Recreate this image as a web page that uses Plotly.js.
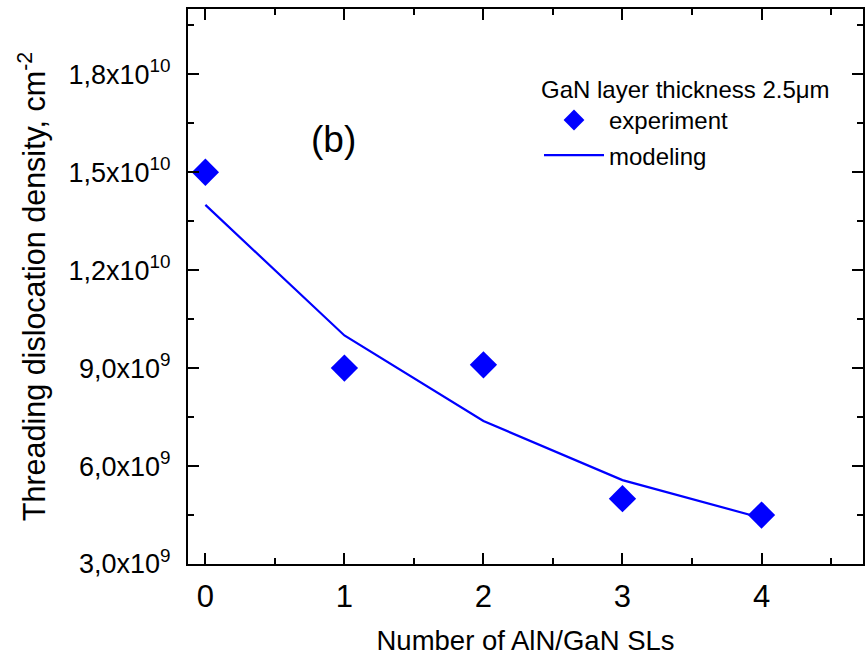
<!DOCTYPE html>
<html>
<head>
<meta charset="utf-8">
<script src="https://cdn.plot.ly/plotly-3.0.1.min.js"></script>
<style>html,body{margin:0;padding:0;background:#fff;}#chart{width:865px;height:657px;}</style>
</head>
<body>
<div id="chart"></div>
<script>
// Data
const layersExp = [0, 1, 2, 3, 4];
const densityExp = [1.5e10, 9.0e9, 9.1e9, 5.0e9, 4.5e9];
const layersModel = [0, 1, 2, 3, 4];
const densityModel = [1.40e10, 1.0e10, 7.38e9, 5.57e9, 4.41e9];
const yTickVals = [3e9, 6e9, 9e9, 1.2e10, 1.5e10, 1.8e10];
const yTickText = ['3,0x10<sup>9</sup>', '6,0x10<sup>9</sup>', '9,0x10<sup>9</sup>',
                   '1,2x10<sup>10</sup>', '1,5x10<sup>10</sup>', '1,8x10<sup>10</sup>'];
const xTickVals = [0, 1, 2, 3, 4];
const xTickText = ['0', '1', '2', '3', '4'];

const FONT = 'Liberation Sans, Arial, sans-serif';
const BLUE = '#0000ff';

const traces = [
  {
    x: layersExp, y: densityExp, name: 'experiment', type: 'scatter', mode: 'markers',
    legendgroup: 'a',
    marker: {symbol: 'diamond', size: 21, color: BLUE}
  },
  {
    x: layersModel, y: densityModel, name: 'modeling', type: 'scatter', mode: 'lines',
    legendgroup: 'b',
    line: {color: BLUE, width: 2.2}
  }
];

const axisCommon = {
  showline: true, linecolor: '#000', linewidth: 2, mirror: 'ticks',
  ticks: 'inside', ticklen: 11, tickwidth: 2, tickcolor: '#000',
  showgrid: false, zeroline: false
};

const layout = {
  width: 865, height: 657,
  margin: {l: 188, r: 2, t: 9, b: 93},
  paper_bgcolor: '#fff', plot_bgcolor: '#fff',
  font: {family: FONT, color: '#000'},
  showlegend: true,
  legend: {
    x: 0.52, y: 0.896, xanchor: 'left', yanchor: 'top',
    bgcolor: 'rgba(0,0,0,0)', borderwidth: 0,
    font: {family: FONT, size: 24, color: '#000'},
    title: {text: 'GaN layer thickness 2.5μm', font: {family: FONT, size: 24, color: '#000'}},
    itemwidth: 60, tracegroupgap: 1
  },
  xaxis: Object.assign({}, axisCommon, {
    range: [-0.125, 4.73],
    tickvals: xTickVals, ticktext: xTickText,
    tickfont: {family: FONT, size: 31, color: '#000'},
    ticklabelstandoff: 4,
    minor: {ticks: 'inside', ticklen: 6, tickwidth: 2, tickcolor: '#000', dtick: 0.5, tick0: 0},
    title: {text: 'Number of AlN/GaN SLs', font: {family: FONT, size: 27.5, color: '#000'}, standoff: 18}
  }),
  yaxis: Object.assign({}, axisCommon, {
    range: [3e9, 2.0e10],
    tickvals: yTickVals, ticktext: yTickText,
    tickfont: {family: FONT, size: 27, color: '#000'},
    ticklabelstandoff: 10,
    minor: {ticks: 'inside', ticklen: 6, tickwidth: 2, tickcolor: '#000', dtick: 1.5e9, tick0: 3e9},
    title: {text: 'Threading dislocation density, cm<sup>-2</sup>', font: {family: FONT, size: 30.5, color: '#000'}, standoff: 14}
  }),
  annotations: [
    {text: '(b)', xref: 'paper', yref: 'paper', x: 0.215, y: 0.765, xanchor: 'center', yanchor: 'middle',
     showarrow: false, font: {family: FONT, size: 37, color: '#000'}}
  ]
};

Plotly.newPlot('chart', traces, layout, {displayModeBar: false, staticPlot: true});
</script>
</body>
</html>
